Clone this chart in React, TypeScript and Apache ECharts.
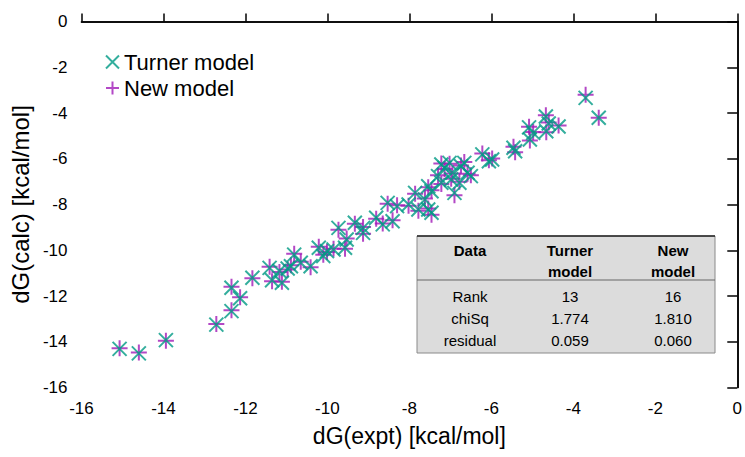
import React, { useEffect, useRef } from "react";
import * as echarts from "echarts";

// Experimental dG (x) and calculated dG (y), kcal/mol
const turnerPoints: number[][] = [
  [-15.07, -14.31], [-14.6, -14.51], [-13.94, -13.93], [-12.71, -13.25], [-12.34, -12.66],
  [-12.13, -12.1], [-12.34, -11.64], [-11.83, -11.2], [-11.41, -10.77], [-11.35, -11.31],
  [-11.11, -11.42], [-11.17, -10.91], [-10.97, -10.8], [-10.89, -10.7], [-10.81, -10.19],
  [-10.65, -10.55], [-10.41, -10.7], [-10.21, -9.89], [-10.01, -10.04], [-9.85, -9.97],
  [-10.1, -10.25], [-9.73, -9.02], [-9.53, -9.53], [-9.57, -9.89], [-9.33, -8.8],
  [-9.13, -9.02], [-9.13, -9.24], [-8.81, -8.58], [-8.65, -8.87], [-8.41, -8.73],
  [-8.53, -7.93], [-8.3, -8.07], [-8.02, -8.0], [-7.86, -7.49], [-7.78, -8.22],
  [-7.54, -8.22], [-7.62, -7.78], [-7.46, -7.42], [-7.46, -8.36], [-7.54, -7.2],
  [-7.3, -6.76], [-7.22, -7.05], [-7.22, -6.25], [-7.14, -6.4], [-7.02, -6.18],
  [-6.98, -6.91], [-6.95, -6.6], [-6.9, -7.49], [-6.78, -7.05], [-6.74, -6.33],
  [-6.66, -6.18], [-6.58, -6.61], [-6.5, -6.76], [-6.22, -5.81], [-6.06, -6.11],
  [-5.98, -6.03], [-5.46, -5.52], [-5.42, -5.67], [-5.06, -5.16], [-5.08, -4.63],
  [-4.98, -4.87], [-4.67, -4.15], [-4.6, -4.46], [-4.66, -4.8], [-4.36, -4.59],
  [-3.7, -3.34], [-3.38, -4.21],
];

const newPoints: number[][] = [
  [-15.07, -14.28], [-14.6, -14.47], [-13.94, -13.96], [-12.71, -13.22], [-12.34, -12.62],
  [-12.13, -12.06], [-12.34, -11.6], [-11.83, -11.22], [-11.41, -10.72], [-11.35, -11.35],
  [-11.11, -11.38], [-11.17, -10.95], [-10.97, -10.84], [-10.89, -10.66], [-10.81, -10.15],
  [-10.65, -10.5], [-10.41, -10.74], [-10.21, -9.85], [-10.01, -10.08], [-9.85, -9.93],
  [-10.1, -10.2], [-9.73, -9.1], [-9.53, -9.49], [-9.57, -9.93], [-9.33, -8.84],
  [-9.13, -8.98], [-9.13, -9.28], [-8.81, -8.62], [-8.65, -8.83], [-8.41, -8.69],
  [-8.53, -7.97], [-8.3, -8.03], [-8.02, -8.05], [-7.86, -7.53], [-7.78, -8.27],
  [-7.54, -8.18], [-7.62, -7.74], [-7.46, -7.38], [-7.46, -8.45], [-7.54, -7.25],
  [-7.3, -6.72], [-7.22, -7.1], [-7.22, -6.21], [-7.14, -6.45], [-7.02, -6.22],
  [-6.98, -6.87], [-6.95, -6.64], [-6.9, -7.6], [-6.78, -7.0], [-6.74, -6.29],
  [-6.66, -6.14], [-6.58, -6.66], [-6.5, -6.72], [-6.22, -5.77], [-6.06, -6.07],
  [-5.98, -5.99], [-5.46, -5.48], [-5.42, -5.72], [-5.06, -5.2], [-5.08, -4.6],
  [-4.98, -4.83], [-4.67, -4.1], [-4.6, -4.42], [-4.66, -4.84], [-4.36, -4.55],
  [-3.7, -3.2], [-3.38, -4.21],
];

const tableHeader: string[][] = [["Data"], ["Turner", "model"], ["New", "model"]];
const tableRows: string[][] = [
  ["Rank", "13", "16"],
  ["chiSq", "1.774", "1.810"],
  ["residual", "0.059", "0.060"],
];

const FONT = "'Liberation Sans', Arial, sans-serif";
const TEAL = "#009a84";
const PURPLE = "#a01ab8";
const CROSS = "path://M0,0L10,10M10,0L0,10";
const PLUS = "path://M5,0L5,10M0,5L10,5";

export default function App() {
  const ref = useRef<HTMLDivElement>(null);
  useEffect(() => {
    if (!ref.current) return;
    const chart = echarts.init(ref.current, undefined, { renderer: "svg" });

    const tx = 417, ty = 236, tw = 298, th = 117;
    const colX = [470, 570, 673];
    const graphics: any[] = [
      {
        type: "rect",
        shape: { x: tx, y: ty, width: tw, height: th },
        style: { fill: "#dcdcdc", stroke: "#8a8a8a", lineWidth: 1 },
        z: 10,
      },
      {
        type: "line",
        shape: { x1: tx, y1: ty, x2: tx + tw, y2: ty },
        style: { stroke: "#222", lineWidth: 1.5 },
        z: 11,
      },
      {
        type: "line",
        shape: { x1: tx, y1: 280, x2: tx + tw, y2: 280 },
        style: { stroke: "#666", lineWidth: 1 },
        z: 11,
      },
    ];
    tableHeader.forEach((lines, ci) => {
      lines.forEach((t, li) => {
        graphics.push({
          type: "text",
          x: colX[ci],
          y: 250 + li * 21,
          style: {
            text: t,
            font: `bold 15px ${FONT}`,
            fill: "#000",
            align: "center",
            verticalAlign: "middle",
          },
          z: 12,
        });
      });
    });
    tableRows.forEach((row, ri) => {
      row.forEach((t, ci) => {
        graphics.push({
          type: "text",
          x: colX[ci],
          y: 296 + ri * 22,
          style: {
            text: t,
            font: `15px ${FONT}`,
            fill: "#000",
            align: "center",
            verticalAlign: "middle",
          },
          z: 12,
        });
      });
    });

    const axisLine = { show: true, lineStyle: { color: "#000", width: 1.5 } };
    chart.setOption({
      animation: false,
      grid: { left: 79.5, top: 21.5, width: 668, height: 366, containLabel: false },
      legend: {
        orient: "vertical",
        left: 100,
        top: 46,
        itemWidth: 13,
        itemHeight: 13,
        itemGap: 4,
        textStyle: { fontSize: 22, color: "#000", fontFamily: FONT },
        data: [
          { name: "Turner model", icon: CROSS, itemStyle: { color: TEAL, borderColor: TEAL, borderWidth: 2 } },
          { name: "New model", icon: PLUS, itemStyle: { color: PURPLE, borderColor: PURPLE, borderWidth: 2 } },
        ],
      },
      xAxis: [
        {
          type: "value",
          min: -16,
          max: 0,
          interval: 2,
          position: "bottom",
          axisLine,
          axisTick: { show: true, inside: true, length: 8, lineStyle: { color: "#000", width: 1.5 } },
          axisLabel: { fontSize: 17, color: "#000", fontFamily: FONT, margin: 12 },
          splitLine: { show: false },
          name: "dG(expt) [kcal/mol]",
          nameLocation: "middle",
          nameGap: 37,
          nameTextStyle: { fontSize: 23, color: "#000", fontFamily: FONT },
        },
        {
          type: "value",
          min: -16,
          max: 0,
          interval: 2,
          position: "top",
          axisLine,
          axisTick: { show: false },
          axisLabel: { show: false },
          splitLine: { show: false },
        },
      ],
      yAxis: [
        {
          type: "value",
          min: -16,
          max: 0,
          interval: 2,
          position: "left",
          axisLine,
          axisTick: { show: false },
          axisLabel: { fontSize: 17, color: "#000", fontFamily: FONT, margin: 14 },
          splitLine: { show: false },
          name: "dG(calc) [kcal/mol]",
          nameLocation: "middle",
          nameGap: 34,
          nameTextStyle: { fontSize: 24, color: "#000", fontFamily: FONT },
        },
        {
          type: "value",
          min: -16,
          max: 0,
          interval: 2,
          position: "right",
          axisLine,
          axisTick: { show: true, inside: true, length: 10, lineStyle: { color: "#000", width: 1.5 } },
          axisLabel: { show: false },
          splitLine: { show: false },
        },
      ],
      series: [
        {
          name: "New model",
          type: "scatter",
          data: newPoints,
          symbol: PLUS,
          symbolSize: 16,
          itemStyle: { color: PURPLE, borderColor: PURPLE, borderWidth: 2 },
          z: 2,
        },
        {
          name: "Turner model",
          type: "scatter",
          data: turnerPoints,
          symbol: CROSS,
          symbolSize: 14,
          itemStyle: { color: TEAL, borderColor: TEAL, borderWidth: 2 },
          z: 3,
        },
      ],
      graphic: graphics,
    });
    return () => chart.dispose();
  }, []);
  return <div ref={ref} style={{ width: 745, height: 457, position: "absolute", left: 0, top: 0 }} />;
}
